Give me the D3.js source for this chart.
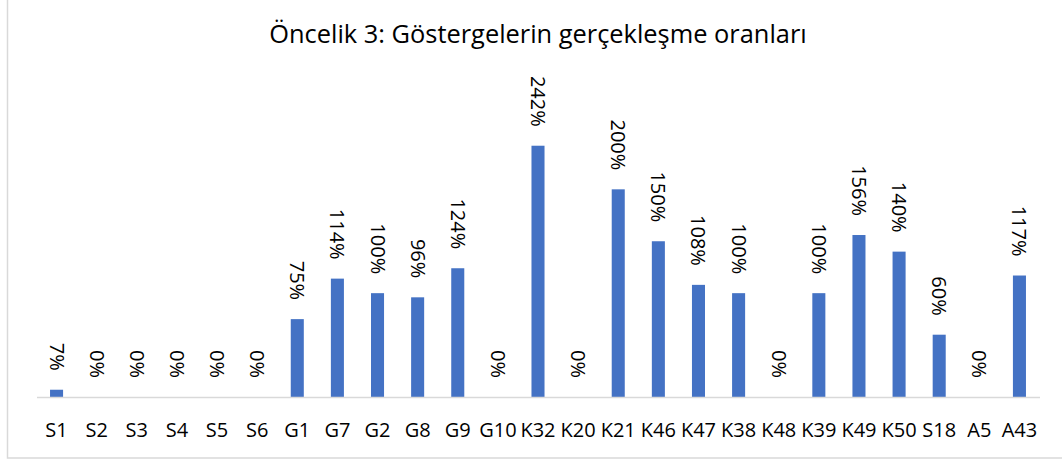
<!DOCTYPE html>
<html>
<head>
<meta charset="utf-8">
<script src="https://cdn.jsdelivr.net/npm/d3@7"></script>
<style>
body{margin:0;background:#fff}
svg{display:block}
</style>
</head>
<body>
<div id="chart"></div>
<script>
// data
let categories=["S1","S2","S3","S4","S5","S6","G1","G7","G2","G8","G9","G10","K32","K20","K21","K46","K47","K38","K48","K39","K49","K50","S18","A5","A43"]
let values=[7,0,0,0,0,0,75,114,100,96,124,0,242,0,200,150,108,100,0,100,156,140,60,0,117]
let labels=values.map(v=>v+"%")
let title="Öncelik 3: Göstergelerin gerçekleşme oranları"

let svgWidth=1062
let svgHeight=461
let baseY=397
let font="'Open Sans', sans-serif"

let svg=d3.select("#chart")
.append("svg")
.attr("width",svgWidth)
.attr("height",svgHeight)

// chart frame
svg.append("rect")
.attr("x",7.5)
.attr("y",-5)
.attr("width",1070)
.attr("height",463)
.attr("fill","#fff")
.attr("stroke","#d9d9d9")
.attr("stroke-width",1.5)

// title
svg.append("text")
.attr("x",538)
.attr("y",43)
.attr("text-anchor","middle")
.attr("font-family",font)
.attr("font-size",25.4)
.attr("fill","#000")
.text(title)

//Scales
let x=d3.scaleBand()
.domain(categories)
.range([36.5,1039.5])
.paddingInner(0.675)
.paddingOuter(0.3375)
let y=d3.scaleLinear()
.domain([0,300])
.range([baseY,baseY-311.5])

// bars
let data=categories.map((c,i)=>({cat:c,val:values[i],lab:labels[i]}))
svg.selectAll("rect.bar")
.data(data)
.enter()
.append("rect")
.attr("class","bar")
.attr("x",d=>x(d.cat))
.attr("y",d=>y(d.val))
.attr("width",x.bandwidth())
.attr("height",d=>baseY-y(d.val))
.attr("fill","#4472c4")

// x axis
let bottomAxis=d3.axisBottom(x).tickSize(0).tickPadding(26)
let ax=svg.append("g")
.attr("transform",`translate(0,${baseY})`)
.call(bottomAxis)
ax.select(".domain").attr("stroke","#d9d9d9").attr("stroke-width",1.5)
ax.selectAll("text")
.attr("font-family",font)
.attr("font-size",20)
.attr("fill","#000")

// value labels
svg.selectAll("text.lab")
.data(data)
.enter()
.append("text")
.attr("class","lab")
.attr("transform",d=>`translate(${x(d.cat)+x.bandwidth()/2},${y(d.val)-19}) rotate(90)`)
.attr("text-anchor","end")
.attr("dy","0.35em")
.attr("font-family",font)
.attr("font-size",20)
.attr("fill","#000")
.text(d=>d.lab)
</script>
</body>
</html>
